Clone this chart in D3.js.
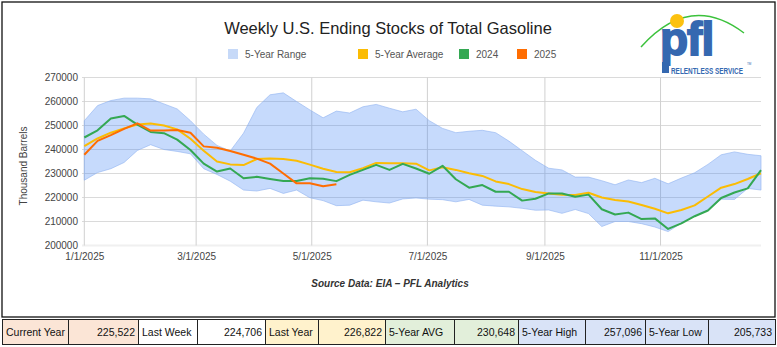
<!DOCTYPE html>
<html>
<head>
<meta charset="utf-8">
<script src="https://cdn.jsdelivr.net/npm/d3@7/dist/d3.min.js"></script>
<style>
    body { margin: 0; background: #fff; }
    svg { display: block; font-family: 'Liberation Sans', Arial, sans-serif; }
</style>
</head>
<body>
<svg id="canvas" width="777" height="347"></svg>
<script>
let weeks = ['01-01','01-08','01-15','01-22','01-29','02-05','02-12','02-19','02-26','03-05','03-12','03-19','03-26',
             '04-02','04-09','04-16','04-23','04-30','05-07','05-14','05-21','05-28','06-04','06-11','06-18','06-25',
             '07-02','07-09','07-16','07-23','07-30','08-06','08-13','08-20','08-27','09-03','09-10','09-17','09-24',
             '10-01','10-08','10-15','10-22','10-29','11-05','11-12','11-19','11-26','12-03','12-10','12-17','12-24']

let rangeHigh = [252000,258300,260400,261400,261400,261100,259000,256900,252000,246400,241700,239400,246800,
                 257500,262800,263600,260000,256500,253200,256000,255200,257800,258800,257200,255700,256800,
                 252000,248800,247000,247600,248000,247000,243500,239500,235500,232200,231500,228500,228500,
                 227000,225300,227300,226200,228000,225700,228100,230300,233800,237800,239000,238000,237400]

let rangeLow = [227200,230400,232000,234600,239600,242000,240000,239200,238200,232000,229600,226800,223100,
                222700,223800,221700,223100,219900,218700,216600,216800,218900,218200,217700,219400,219800,
                219300,219100,218200,219200,216800,216400,216100,215500,214700,214800,213400,215000,213300,
                207900,210000,210000,209100,207700,205800,209300,212100,214800,219300,219200,223800,223100]

let avg5 = [241400,244600,247000,248800,250400,250800,250000,248400,244500,239500,235000,233800,233500,
            236000,236300,236000,235300,233700,232000,230650,230500,232200,234400,234300,234300,234100,
            231300,232600,231500,230100,229000,226700,225600,223500,222300,221700,221100,221000,222000,
            220000,219000,218300,216900,215300,213400,214800,216700,220400,224100,225600,227700,230100]

let y2024 = [245000,248000,252900,254000,250400,247300,246800,244100,239800,234100,230800,232100,228000,
             228600,227700,226900,226900,228000,227800,226822,229400,231500,233600,231500,234000,232100,
             229900,233200,227600,224100,225200,222400,222400,218700,219500,221700,221700,220300,221200,
             215100,212900,213700,211000,211300,206900,209200,212200,214600,219800,222100,223800,231400]

let y2025 = [237800,243600,246000,248600,250900,247900,247900,248100,247000,241300,240700,239400,237800,
             236200,234100,230000,225900,225900,224706,225522]

let yTicks = [200000,210000,220000,230000,240000,250000,260000,270000]

let legendNames = ['5-Year Range','5-Year Average','2024','2025']
let legendColors = ['#c6d9f8','#fbbc04','#34a853','#ff6d01']

let tableCells = [
    ['Current Year','225,522','Last Week','224,706','Last Year','226,822'],
    ['5-Year AVG','230,648','5-Year High','257,096','5-Year Low','205,733']
]

let canvas = d3.select('#canvas')
let parseDate = d3.timeParse('%Y-%m-%d')
let dates = weeks.map((w) => parseDate('2025-' + w))

let xScale = d3.scaleTime()
            .domain([dates[0], dates[dates.length - 1]])
            .range([84.3, 761])

let yScale = d3.scaleLinear()
            .domain([200000, 270000])
            .range([245.5, 77.5])

let drawFrame = () => {
    canvas.append('rect')
            .attr('x', 2).attr('y', 2)
            .attr('width', 773).attr('height', 315)
            .attr('fill', '#fff')
            .attr('stroke', '#111')
            .attr('stroke-width', 1.3)

    canvas.append('text')
            .attr('x', 388)
            .attr('y', 34)
            .attr('text-anchor', 'middle')
            .attr('font-size', 16.5)
            .attr('fill', '#222')
            .text('Weekly U.S. Ending Stocks of Total Gasoline')

    let legendX = [228, 358, 459, 517]
    legendNames.forEach((name, i) => {
        canvas.append('rect')
                .attr('x', legendX[i]).attr('y', 49)
                .attr('width', 10).attr('height', 10)
                .attr('fill', legendColors[i])
        canvas.append('text')
                .attr('x', legendX[i] + 17)
                .attr('y', 58)
                .attr('font-size', 10)
                .attr('fill', '#555')
                .text(name)
    })
}

let drawAxes = () => {
    canvas.append('g')
            .selectAll('line')
            .data(yTicks)
            .enter()
            .append('line')
            .attr('x1', 82).attr('x2', 761)
            .attr('y1', (d) => yScale(d)).attr('y2', (d) => yScale(d))
            .attr('stroke', (d) => d === 200000 ? '#f0f0f0' : '#dadada')
            .attr('stroke-width', (d) => d === 200000 ? 2 : 1)

    let xTicks = xScale.ticks(d3.timeMonth.every(2))
    canvas.append('g')
            .selectAll('line')
            .data(xTicks)
            .enter()
            .append('line')
            .attr('x1', (d) => xScale(d)).attr('x2', (d) => xScale(d))
            .attr('y1', 77.5).attr('y2', 245.5)
            .attr('stroke', '#d0d0d0')

    let yAxis = d3.axisLeft(yScale).tickValues(yTicks).tickSize(0).tickPadding(0).tickFormat(d3.format('d'))
    canvas.append('g')
            .attr('transform', 'translate(78,0)')
            .call(yAxis)
            .call((g) => g.select('.domain').remove())
            .selectAll('text')
            .attr('font-size', 10)
            .attr('font-family', "'Liberation Sans', Arial, sans-serif")
            .attr('fill', '#444')

    let xAxis = d3.axisBottom(xScale).tickValues(xTicks).tickSize(0).tickPadding(0).tickFormat(d3.timeFormat('%-m/%-d/%Y'))
    canvas.append('g')
            .attr('transform', 'translate(0,253)')
            .call(xAxis)
            .call((g) => g.select('.domain').remove())
            .selectAll('text')
            .attr('font-size', 10)
            .attr('font-family', "'Liberation Sans', Arial, sans-serif")
            .attr('fill', '#444')

    canvas.append('text')
            .attr('transform', 'translate(27,166) rotate(-90)')
            .attr('text-anchor', 'middle')
            .attr('font-size', 10)
            .attr('fill', '#444')
            .text('Thousand Barrels')

    canvas.append('text')
            .attr('x', 390)
            .attr('y', 287)
            .attr('text-anchor', 'middle')
            .attr('font-size', 10)
            .attr('font-weight', 'bold')
            .attr('font-style', 'italic')
            .attr('fill', '#333')
            .text('Source Data: EIA \u2013 PFL Analytics')
}

let drawSeries = () => {
    let band = d3.area()
            .x((d, i) => xScale(dates[i]))
            .y0((d, i) => yScale(rangeLow[i]))
            .y1((d) => yScale(d))

    canvas.append('path')
            .datum(rangeHigh)
            .attr('d', band)
            .attr('fill', '#4285f4')
            .attr('fill-opacity', 0.3)
            .attr('stroke', '#8fb3f0')
            .attr('stroke-opacity', 0.6)
            .attr('stroke-width', 1)

    let line = d3.line()
            .x((d, i) => xScale(dates[i]))
            .y((d) => yScale(d))

    let series = [[avg5, '#fbbc04'], [y2024, '#34a853'], [y2025, '#ff6d01']]
    series.forEach((s) => {
        canvas.append('path')
                .datum(s[0])
                .attr('d', line)
                .attr('fill', 'none')
                .attr('stroke', s[1])
                .attr('stroke-width', 2)
                .attr('stroke-linejoin', 'round')
    })
}

// logo in the top right corner
let drawLogo = () => {
    let logo = canvas.append('g')
    logo.append('path')
            .attr('d', 'M641,47 Q690,-8 744,33')
            .attr('fill', 'none')
            .attr('stroke', '#3cc23c')
            .attr('stroke-width', 1.5)
    logo.append('circle')
            .attr('cx', 677).attr('cy', 21).attr('r', 7)
            .attr('fill', '#fcc10f')
    logo.append('text')
            .attr('x', 660)
            .attr('y', 55)
            .attr('font-size', 46)
            .attr('font-weight', 'bold')
            .attr('letter-spacing', -1)
            .attr('fill', '#3568b0')
            .attr('stroke', '#3568b0')
            .attr('stroke-width', 1.8)
            .text('pfl')
    logo.append('rect')
            .attr('x', 662).attr('y', 62).attr('width', 7).attr('height', 11)
            .attr('fill', '#3568b0')
    logo.append('text')
            .attr('x', 671)
            .attr('y', 73.5)
            .attr('font-size', 8.6)
            .attr('font-weight', 'bold')
            .attr('fill', '#3568b0')
            .attr('textLength', 72)
            .attr('lengthAdjust', 'spacingAndGlyphs')
            .text('RELENTLESS SERVICE')
    logo.append('text')
            .attr('x', 747)
            .attr('y', 65)
            .attr('font-size', 3)
            .attr('fill', '#3568b0')
            .text('TM')
}

let drawTable = () => {
    let edges = [2, 68, 138, 197, 265, 318, 385, 454, 518, 585, 645, 708, 775]
    let fills = ['#fbe5d6','#fbe5d6','#ffffff','#ffffff','#fff2cc','#fff2cc',
                 '#e2efda','#e2efda','#d9e3f7','#d9e3f7','#d9e3f7','#d9e3f7']
    let texts = tableCells[0].concat(tableCells[1])

    let cells = canvas.append('g')
            .selectAll('g')
            .data(texts)
            .enter()
            .append('g')

    cells.append('rect')
            .attr('x', (d, i) => edges[i] + 0.5)
            .attr('y', 319.5)
            .attr('width', (d, i) => edges[i + 1] - edges[i])
            .attr('height', 25)
            .attr('fill', (d, i) => fills[i])
            .attr('stroke', '#222')
            .attr('stroke-width', 1)

    cells.append('text')
            .attr('x', (d, i) => i % 2 === 0 ? edges[i] + 4 : edges[i + 1] - 3)
            .attr('y', 336)
            .attr('text-anchor', (d, i) => i % 2 === 0 ? 'start' : 'end')
            .attr('font-size', 10.5)
            .attr('fill', '#111')
            .text((d) => d)
}

drawFrame()
drawAxes()
drawSeries()
drawLogo()
drawTable()
</script>
</body>
</html>
